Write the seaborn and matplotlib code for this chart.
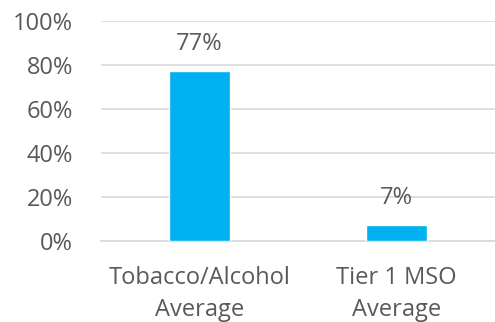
import matplotlib
matplotlib.use("Agg")
import matplotlib.pyplot as plt
import seaborn as sns
import pandas as pd

categories = ["Tobacco/Alcohol\nAverage", "Tier 1 MSO\nAverage"]
values = [0.77, 0.07]
labels = ["77%", "7%"]
yticks = [0, 0.2, 0.4, 0.6, 0.8, 1.0]
ytick_labels = ["0%", "20%", "40%", "60%", "80%", "100%"]

sns.set_style("white")
plt.rcParams['font.family'] = ['Open Sans', 'DejaVu Sans']
grey = "#595959"
fs = 17

df = pd.DataFrame({"cat": categories, "val": values})
fig = plt.figure(figsize=(4.95, 3.22), dpi=100)
ax = fig.add_axes([101/495, 81.5/322, 394/495, 220/322])
sns.barplot(data=df, x="cat", y="val", color="#00b0f0", width=0.31,
            saturation=1, ax=ax, zorder=3)
ax.set_ylim(0, 1)
ax.set_yticks(yticks)
ax.set_yticklabels(ytick_labels)
ax.set_xlabel("")
ax.set_ylabel("")
ax.yaxis.grid(True, color="#d9d9d9", linewidth=1.2, zorder=0)
ax.set_axisbelow(True)
for s in ["top", "right", "left"]:
    ax.spines[s].set_visible(False)
ax.spines["bottom"].set_color("#d9d9d9")
ax.spines["bottom"].set_linewidth(1.2)
ax.tick_params(axis="both", length=0, colors=grey, labelsize=fs)
ax.tick_params(axis="y", pad=20)
ax.tick_params(axis="x", pad=18)
for lbl in ax.get_xticklabels():
    lbl.set_linespacing(1.45)
for i, (v, t) in enumerate(zip(values, labels)):
    ax.annotate(t, (i, v), xytext=(0, 11), textcoords="offset points",
                ha="center", va="bottom", color=grey, fontsize=fs)
fig.savefig("out.png", dpi=100)
